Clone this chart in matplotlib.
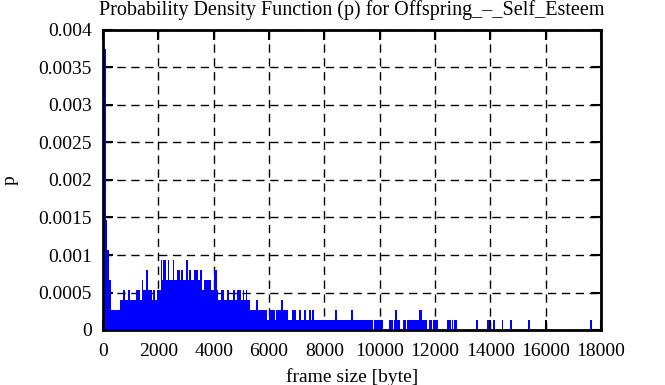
import matplotlib
matplotlib.use("Agg")
import matplotlib.pyplot as plt

# Histogram runs: [start, end) in bytes and PDF value p
seg_start = [0, 100, 150, 200, 300, 600, 730, 800, 910, 980, 1190, 1340, 1400, 1460, 1550, 1620,
             1760, 1820, 1880, 1940, 2090, 2140, 2180, 2240, 2280, 2340, 2400, 2520, 2580, 2670,
             2780, 2820, 2880, 3000, 3060, 3120, 3180, 3300, 3420, 3520, 3580, 3640, 3900, 4020,
             4110, 4170, 4270, 4380, 4470, 4570, 4690, 4770, 4850, 4990, 5050, 5100, 5160, 5220,
             5310, 5530, 5610, 5920, 6010, 6220, 6250, 6420, 6520, 6700, 6820, 6940, 6980, 7080,
             7150, 7260, 7340, 7460, 7520, 7570, 7630, 8400, 8470, 8950, 9030, 9800, 10340, 10520,
             10550, 10610, 10830, 10980, 11430, 11520, 11790, 11940, 12420, 12600, 12700, 13470,
             13880, 14110, 14410, 14710, 15350, 17600]
seg_end = [100, 150, 200, 300, 600, 730, 800, 910, 980, 1190, 1340, 1400, 1460, 1550, 1620, 1760,
           1820, 1880, 1940, 2090, 2140, 2180, 2240, 2280, 2340, 2400, 2520, 2580, 2670, 2780,
           2820, 2880, 3000, 3060, 3120, 3180, 3300, 3420, 3520, 3580, 3640, 3900, 4020, 4110,
           4170, 4270, 4380, 4470, 4570, 4690, 4770, 4850, 4990, 5050, 5100, 5160, 5220, 5310,
           5530, 5610, 5920, 6010, 6220, 6250, 6420, 6520, 6700, 6820, 6940, 6980, 7080, 7150,
           7260, 7340, 7460, 7520, 7570, 7630, 8400, 8470, 8950, 9030, 9750, 10130, 10470, 10550,
           10610, 10730, 10950, 11430, 11520, 11720, 11880, 12120, 12570, 12660, 12790, 13540,
           13950, 14180, 14470, 14790, 15430, 17670]
pdf_value = [0.00375, 0.00147, 0.00107, 0.00067, 0.00027, 0.0004, 0.00053, 0.0004, 0.00053, 0.0004,
             0.00053, 0.0004, 0.00067, 0.00053, 0.0008, 0.00053, 0.0004, 0.00053, 0.0004, 0.00053,
             0.00093, 0.00067, 0.00093, 0.00093, 0.00067, 0.00093, 0.00067, 0.00093, 0.00067, 0.0008,
             0.00067, 0.0008, 0.00067, 0.00093, 0.00067, 0.0008, 0.00067, 0.0008, 0.00067, 0.0008,
             0.00053, 0.00067, 0.00053, 0.0008, 0.00053, 0.0004, 0.00053, 0.0004, 0.00053, 0.0004,
             0.00053, 0.0004, 0.00053, 0.0004, 0.00053, 0.0004, 0.00053, 0.0004, 0.00027, 0.0004,
             0.00027, 0.00013, 0.00027, 0.00013, 0.00027, 0.0004, 0.00027, 0.00013, 0.00027, 0.00027,
             0.00013, 0.00027, 0.00013, 0.00027, 0.00013, 0.00027, 0.00013, 0.00027, 0.00013, 0.00027,
             0.00013, 0.00027, 0.00013, 0.00013, 0.00013, 0.00013, 0.00027, 0.00013, 0.00013, 0.00013,
             0.00027, 0.00013, 0.00013, 0.00013, 0.00013, 0.00013, 0.00013, 0.00013, 0.00013, 0.00013,
             0.00013, 0.00013, 0.00013, 0.00013]

x_ticks = [0, 2000, 4000, 6000, 8000, 10000, 12000, 14000, 16000, 18000]
y_ticks = [0, 0.0005, 0.001, 0.0015, 0.002, 0.0025, 0.003, 0.0035, 0.004]
y_tick_labels = ["0", "0.0005", "0.001", "0.0015", "0.002", "0.0025", "0.003", "0.0035", "0.004"]

plt.rcParams['font.family'] = ['Liberation Serif', 'DejaVu Serif']

fig = plt.figure(figsize=(6.65, 3.85), dpi=100)
ax = fig.add_axes([103 / 665, 1 - 330 / 385, 498 / 665, 300 / 385])

widths = [e - s for s, e in zip(seg_start, seg_end)]
ax.bar(seg_start, pdf_value, width=widths, align='edge', color='#0000ff', linewidth=0, zorder=3)

ax.set_xlim(0, 18000)
ax.set_ylim(0, 0.004)
ax.set_xticks(x_ticks)
ax.set_xticklabels([str(v) for v in x_ticks])
ax.set_yticks(y_ticks)
ax.set_yticklabels(y_tick_labels)

ax.grid(True, color='black', linestyle=(0, (6, 4)), linewidth=1.0, zorder=1)
ax.tick_params(direction='in', length=7, width=1.5, top=True, right=True, labelsize=14)
ax.tick_params(axis='x', pad=9)
ax.tick_params(axis='y', pad=8)
for sp in ax.spines.values():
    sp.set_linewidth(2)
    sp.set_zorder(5)

ax.set_title("Probability Density Function (p) for Offspring_\u2013_Self_Esteem", fontsize=14.5, pad=11)
ax.set_xlabel("frame size [byte]", fontsize=14, labelpad=6)
ax.set_ylabel("p", fontsize=14, labelpad=14)

fig.savefig("out.png", dpi=100)
